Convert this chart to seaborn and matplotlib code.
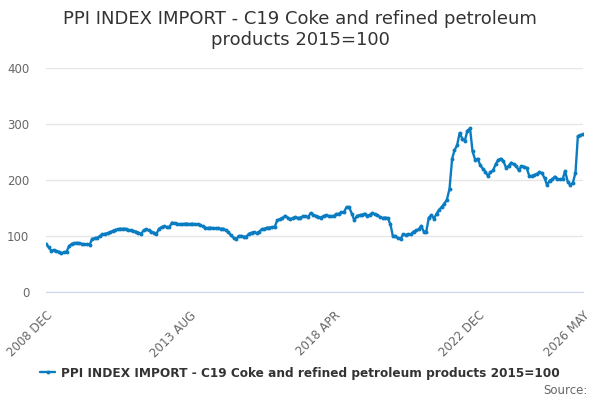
import numpy as np
import pandas as pd
import matplotlib
matplotlib.use("Agg")
import matplotlib.pyplot as plt
import seaborn as sns

# monthly index values, 2008 DEC .. 2026 MAY
start_month = "2008-12-01"
ppi_values = [
    86, 80, 74, 75, 73, 72, 69, 71, 72, 82,
    86, 87, 88, 87, 86, 85, 85, 84, 95, 96,
    97, 100, 103, 104, 105, 107, 109, 111, 112, 113,
    113, 113, 111, 110, 109, 108, 106, 104, 110, 112,
    110, 108, 106, 104, 113, 116, 117, 116, 116, 124,
    123, 122, 121, 121, 122, 122, 121, 122, 121, 121,
    120, 117, 115, 114, 115, 114, 114, 114, 113, 113,
    110, 107, 101, 97, 94, 100, 100, 99, 99, 104,
    106, 107, 105, 108, 112, 113, 115, 115, 116, 116,
    128, 130, 132, 136, 133, 130, 132, 134, 132, 133,
    135, 135, 134, 141, 138, 136, 134, 133, 136, 137,
    136, 135, 136, 139, 140, 142, 143, 152, 151, 140,
    128, 136, 137, 138, 140, 136, 138, 141, 139, 137,
    134, 132, 133, 132, 121, 100, 100, 96, 95, 103,
    102, 103, 103, 108, 110, 112, 118, 108, 108, 133,
    137, 131, 140, 147, 152, 158, 165, 184, 238, 253,
    262, 284, 274, 270, 288, 292, 251, 236, 238, 226,
    220, 215, 207, 214, 217, 228, 236, 238, 234, 222,
    225, 231, 228, 225, 217, 225, 224, 222, 208, 207,
    209, 211, 214, 212, 203, 191, 199, 201, 206, 202,
    201, 201, 216, 197, 191, 195, 213, 278, 280, 282,
]
series_name = "PPI INDEX IMPORT - C19 Coke and refined petroleum products 2015=100"
title_text = "PPI INDEX IMPORT - C19 Coke and refined petroleum\nproducts 2015=100"
y_ticks = [0, 100, 200, 300, 400]

dates = pd.date_range(start_month, periods=len(ppi_values), freq="MS")
df = pd.DataFrame({"date": dates, "value": ppi_values})

sns.set_style("white")
plt.rcParams["font.family"] = ["DejaVu Sans"]

line_col = "#0a7cc1"
fig = plt.figure(figsize=(6, 4), dpi=100)
ax = fig.add_axes([46 / 600, 1 - 292 / 400, (583 - 46) / 600, (292 - 68) / 400])

sns.lineplot(data=df, x="date", y="value", ax=ax, color=line_col, linewidth=1.7,
             marker="o", markersize=2.8, markeredgewidth=0, label=series_name)

ax.set_ylim(0, 400)
ax.set_xlim(dates[0], dates[-1])
ax.set_yticks(y_ticks)
ax.set_yticklabels([str(v) for v in y_ticks])
ax.yaxis.grid(True, color="#e6e6e6", linewidth=1)
ax.set_axisbelow(True)

# x ticks every 14 months, label every 4th, plus the last month
tick_dates = list(dates[::14]) + [dates[-1]]
tick_labels = []
for i, d in enumerate(tick_dates):
    if i % 4 == 0 or i == len(tick_dates) - 1:
        tick_labels.append(d.strftime("%Y %b").upper())
    else:
        tick_labels.append("")
ax.set_xticks(tick_dates)
ax.set_xticklabels(tick_labels, rotation=45, ha="right", rotation_mode="anchor")
ax.tick_params(axis="x", colors="#ccd6eb", length=8, width=1, labelcolor="#666666",
               labelsize=8.5, pad=4)
ax.tick_params(axis="y", length=0, labelcolor="#666666", labelsize=8.5, pad=12)

for s in ["top", "right", "left"]:
    ax.spines[s].set_visible(False)
ax.spines["bottom"].set_color("#ccd6eb")
ax.set_xlabel("")
ax.set_ylabel("")

fig.text(0.5, 0.975, title_text, ha="center", va="top", fontsize=13,
         color="#333333", linespacing=1.22)

leg = ax.legend(loc="center", frameon=False, handlelength=1.2, handletextpad=0.5,
                prop={"weight": "bold", "size": 8.7})
leg.set_bbox_to_anchor((300 / 600, 1 - 373 / 400), transform=fig.transFigure)
for t in leg.get_texts():
    t.set_color("#333333")

fig.text(588 / 600, 1 - 390 / 400, "Source:", ha="right", va="center",
         fontsize=8.5, color="#666666")

fig.savefig("out.png", dpi=100)
